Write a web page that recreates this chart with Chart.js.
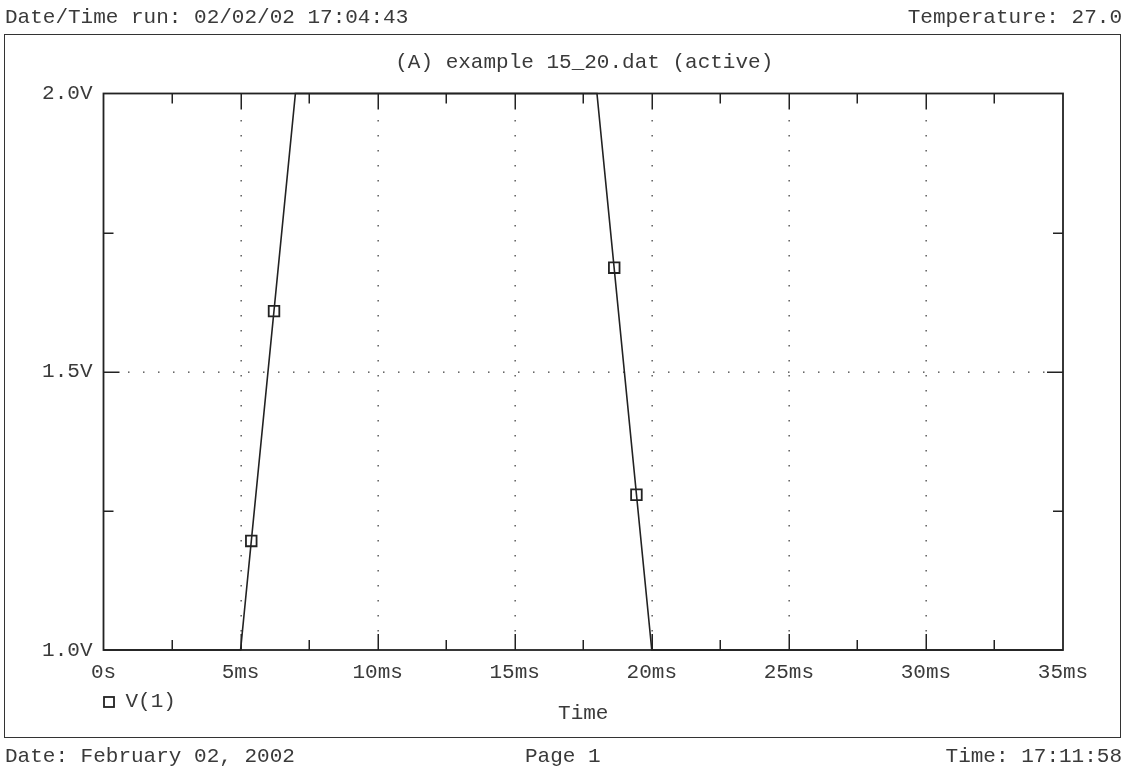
<!DOCTYPE html>
<html>
<head>
<meta charset="utf-8">
<script src="https://cdn.jsdelivr.net/npm/chart.js@4/dist/chart.umd.min.js"></script>
<style>
html,body{margin:0;padding:0;background:#fff;}
#wrap{position:relative;width:1133px;height:769px;overflow:hidden;background:#fff;}
#c{position:absolute;left:0;top:0;}
.t{position:absolute;font-family:"Liberation Mono","DejaVu Sans Mono",monospace;font-size:21px;color:#3a3a3a;white-space:pre;line-height:1;}
#frame{position:absolute;left:4px;top:34px;width:1117px;height:704px;box-sizing:border-box;border:1.5px solid #333;}
</style>
</head>
<body>
<div id="wrap">
  <div id="frame"></div>
  <canvas id="c" width="1133" height="769"></canvas>
  <div class="t" style="left:5px;top:7px;">Date/Time run: 02/02/02 17:04:43</div>
  <div class="t" style="right:11px;top:7px;">Temperature: 27.0</div>
  <div class="t" style="left:5px;top:746px;">Date: February 02, 2002</div>
  <div class="t" style="left:525px;top:746px;">Page 1</div>
  <div class="t" style="right:11px;top:746px;">Time: 17:11:58</div>
</div>
<script>
// ---- data ----
const timeMs = [0, 5, 7, 18, 20, 35];
const voltage = [1.0, 1.0, 2.0, 2.0, 1.0, 1.0];
const markerTimeMs = [5.39, 6.22, 18.63, 19.44];
const markerVoltage = [1.196, 1.609, 1.687, 1.279];
const xTickLabels = ['0s', '5ms', '10ms', '15ms', '20ms', '25ms', '30ms', '35ms'];
const yTickLabels = ['1.0V', '1.5V', '2.0V'];
const seriesName = 'V(1)';
const plotTitle = '(A) example 15_20.dat (active)';
const xAxisTitle = 'Time';

const FONT = '"Liberation Mono","DejaVu Sans Mono",monospace';
const TEXT = '#3a3a3a';
const INK = '#222';

const linePoints = timeMs.map((t, i) => ({x: t, y: voltage[i]}));
const markerPoints = markerTimeMs.map((t, i) => ({x: t, y: markerVoltage[i]}));

const probePlugin = {
  id: 'probe',
  beforeDatasetsDraw(chart) {
    const {ctx, chartArea: a, scales: {x, y}} = chart;
    ctx.save();
    ctx.fillStyle = '#444';
    // vertical dotted grid at labelled x ticks
    x.ticks.forEach(tk => {
      const v = tk.value;
      if (Math.abs(v % 5) > 1e-9 || v <= x.min || v >= x.max) return;
      const px = Math.round(x.getPixelForValue(v));
      for (let py = a.top + 27; py < a.bottom - 17; py += 15) {
        ctx.fillRect(px - 0.5, py - 0.5, 1.3, 1.5);
      }
    });
    // horizontal dotted grid at labelled y ticks
    y.ticks.forEach(tk => {
      const v = tk.value;
      const k = Math.round(v * 100);
      if (k % 50 !== 0 || v <= y.min || v >= y.max) return;
      const py = Math.round(y.getPixelForValue(v));
      for (let px = a.left + 25; px < a.right - 17; px += 15) {
        ctx.fillRect(px - 0.5, py - 0.5, 1.5, 1.3);
      }
    });
    ctx.restore();
  },
  afterDatasetsDraw(chart) {
    const {ctx, chartArea: a, scales: {x, y}} = chart;
    ctx.save();
    ctx.strokeStyle = INK;
    ctx.lineWidth = 1.5;
    ctx.beginPath();
    // x tick marks (inside, top and bottom)
    x.ticks.forEach(tk => {
      const v = tk.value;
      if (v <= x.min || v >= x.max) return;
      const len = Math.abs(v % 5) < 1e-9 ? 16 : 10;
      const px = Math.round(x.getPixelForValue(v)) + 0.25;
      ctx.moveTo(px, a.bottom); ctx.lineTo(px, a.bottom - len);
      ctx.moveTo(px, a.top); ctx.lineTo(px, a.top + len);
    });
    // y tick marks (inside, left and right)
    y.ticks.forEach(tk => {
      const v = tk.value;
      if (v <= y.min || v >= y.max) return;
      const len = Math.round(v * 100) % 50 === 0 ? 16 : 10;
      const py = Math.round(y.getPixelForValue(v)) + 0.25;
      ctx.moveTo(a.left, py); ctx.lineTo(a.left + len, py);
      ctx.moveTo(a.right, py); ctx.lineTo(a.right - len, py);
    });
    ctx.stroke();
    // plot frame
    ctx.lineWidth = 1.8;
    ctx.strokeRect(a.left, a.top, a.right - a.left, a.bottom - a.top);
    // title
    ctx.fillStyle = TEXT;
    ctx.font = '21px ' + FONT;
    ctx.textAlign = 'center';
    ctx.textBaseline = 'middle';
    ctx.fillText(plotTitle, (a.left + a.right) / 2 + 1, 62);
    // legend
    const ds = chart.data.datasets[1];
    ctx.strokeStyle = ds.borderColor;
    ctx.lineWidth = 1.8;
    ctx.strokeRect(a.left + 0.5, 697, 10, 10);
    ctx.textAlign = 'left';
    ctx.fillText(ds.label, a.left + 22, 701);
    ctx.restore();
  }
};

new Chart(document.getElementById('c'), {
  type: 'scatter',
  data: {
    datasets: [
      {
        label: seriesName,
        data: linePoints,
        showLine: true,
        borderColor: INK,
        borderWidth: 1.6,
        pointRadius: 0,
        tension: 0,
        fill: false
      },
      {
        label: seriesName,
        data: markerPoints,
        showLine: false,
        pointStyle: 'rect',
        pointRadius: 7.5,
        pointBorderWidth: 1.8,
        borderColor: INK,
        backgroundColor: 'rgba(0,0,0,0)',
        pointBackgroundColor: 'rgba(0,0,0,0)'
      }
    ]
  },
  options: {
    responsive: false,
    animation: false,
    devicePixelRatio: 1,
    clip: false,
    layout: {padding: {left: 0, top: 93.5, right: 70, bottom: 0}},
    plugins: {legend: {display: false}, tooltip: {enabled: false}, title: {display: false}},
    scales: {
      x: {
        type: 'linear',
        min: 0, max: 35,
        grid: {display: false},
        border: {display: false},
        afterFit(s) { s.height = 119; },
        ticks: {
          stepSize: 2.5,
          autoSkip: false,
          maxRotation: 0,
          padding: 2,
          color: TEXT,
          font: {family: FONT, size: 21, lineHeight: 1.2},
          callback(v) {
            const i = v / 5;
            return Math.abs(i - Math.round(i)) < 1e-9 ? xTickLabels[Math.round(i)] : '';
          }
        },
        title: {
          display: true,
          text: xAxisTitle,
          color: TEXT,
          font: {family: FONT, size: 21, lineHeight: 1.2},
          padding: {top: 0, bottom: 43}
        }
      },
      y: {
        type: 'linear',
        min: 1, max: 2,
        grid: {display: false},
        border: {display: false},
        afterFit(s) { s.width = 103.5; },
        ticks: {
          stepSize: 0.25,
          autoSkip: false,
          padding: 3,
          color: TEXT,
          font: {family: FONT, size: 21, lineHeight: 1.2},
          callback(v) {
            const k = Math.round((v - 1) * 100);
            return k % 50 === 0 ? yTickLabels[k / 50] : '';
          }
        }
      }
    }
  },
  plugins: [probePlugin]
});
</script>
</body>
</html>
